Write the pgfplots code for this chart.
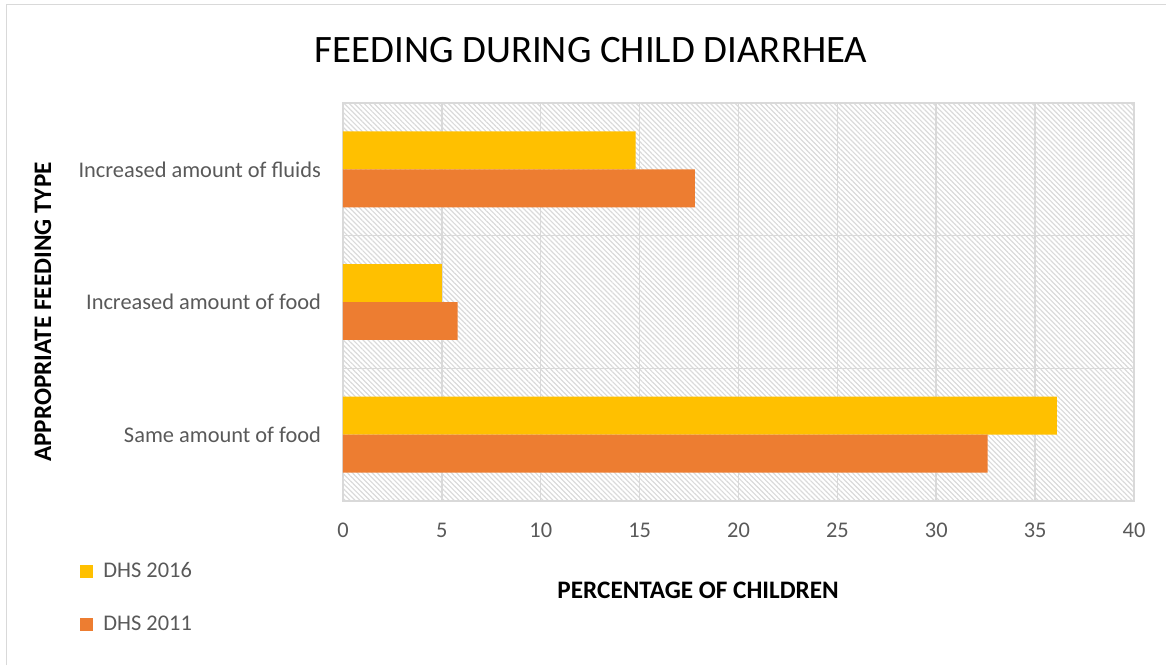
\documentclass[border=0pt]{standalone}
\usepackage{fontspec}
\setmainfont{Carlito}
\usepackage{pgfplots}
\pgfplotsset{compat=1.18}
\usetikzlibrary{patterns.meta}
\definecolor{c16}{HTML}{FFC000}
\definecolor{c11}{HTML}{ED7D31}
\definecolor{gridc}{HTML}{D9D9D9}
\definecolor{txt}{HTML}{595959}
\definecolor{hatch}{HTML}{DADADA}
\pgfplotsset{sqleg/.style={legend image code/.code={\fill[##1] (0pt,-3.25pt) rectangle (6.5pt,3.25pt);}}}
\begin{document}
\begin{tikzpicture}
\useasboundingbox (-171.5pt,-82pt) rectangle (411.5pt,250.5pt);
\begin{axis}[
  at={(0,0)}, anchor=south west,
  scale only axis, width=395.5pt, height=199pt,
  xbar, xmin=0, xmax=40, ymin=-0.5, ymax=2.5,
  bar width=0.286,
  xtick={0,5,...,40},
  ytick={0,1,2},
  yticklabels={Same amount of food, Increased amount of food, Increased amount of fluids},
  minor ytick={-0.5,0.5,1.5,2.5},
  xmajorgrids, yminorgrids, ymajorgrids=false,
  grid style={gridc, line width=0.75pt},
  minor grid style={gridc, line width=0.75pt},
  major grid style={gridc, line width=0.75pt},
  axis line style={gridc, line width=0.75pt},
  major tick length=0pt, minor tick length=0pt,
  /pgf/number format/assume math mode=true,
  xticklabel style={font=\fontsize{11.2}{13}\selectfont, text=txt, yshift=-7.5pt},
  yticklabel style={font=\fontsize{11.2}{13}\selectfont, text=txt, xshift=-7.5pt},
  axis background/.style={pattern={Lines[angle=-45,distance=1.75pt,line width=0.6pt]}, pattern color=hatch},
  title={FEEDING DURING CHILD DIARRHEA},
  title style={at={(axis description cs:0.3135,1.1030)}, anchor=center, font=\fontsize{19.4}{22}\selectfont, text=black},
  xlabel={PERCENTAGE OF CHILDREN},
  xlabel style={at={(axis description cs:0.449,-0.2236)}, anchor=center, font=\bfseries\fontsize{12.6}{15}\selectfont, text=black},
  ylabel={APPROPRIATE FEEDING TYPE},
  ylabel style={at={(axis description cs:-0.3793,0.4749)}, anchor=center, font=\bfseries\fontsize{12.6}{15}\selectfont, text=black},
  legend style={at={(0,0)}, anchor=north west, xshift=-131.5pt, yshift=-28.5pt, draw=none, fill=none, font=\fontsize{11.2}{13}\selectfont, text=txt, row sep=13.5pt, inner sep=0pt, column sep=3pt},
  legend cell align=left,
]
\addplot[fill=c16, draw=none, bar shift=0.143, sqleg] coordinates {(36.1,0) (5.0,1) (14.8,2)};
\addlegendentry{DHS 2016}
\addplot[fill=c11, draw=none, bar shift=-0.143, sqleg] coordinates {(32.6,0) (5.8,1) (17.8,2)};
\addlegendentry{DHS 2011}
\end{axis}
\draw[gridc, line width=0.75pt] (-168.25pt,-82pt) -- (-168.25pt,248.25pt) -- (411.5pt,248.25pt);
\end{tikzpicture}
\end{document}
